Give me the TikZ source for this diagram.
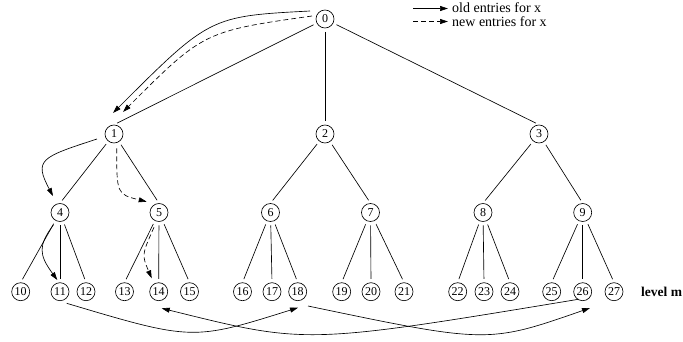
\documentclass[tikz,border=0pt]{standalone}
\usepackage{fontspec}
\setmainfont{Liberation Serif}
\usetikzlibrary{arrows.meta,calc}
\begin{document}
\begin{tikzpicture}[x=1pt,y=-1pt,
  nd/.style={circle,draw,line width=0.65pt,minimum size=18pt,inner sep=0.5pt,font=\fontsize{12}{12}\selectfont},
  edg/.style={line width=0.65pt,shorten <=3.5pt,shorten >=3.5pt},
  arr/.style={line width=0.65pt,-{Triangle[length=8pt,width=5pt]}},
  darr/.style={arr,dash pattern=on 5pt off 3pt},
  legtext/.style={anchor=base west,inner sep=0pt,font=\fontsize{14}{14}\selectfont},
  lvl/.style={anchor=base west,inner sep=0pt,font=\fontsize{13.5}{13.5}\selectfont\bfseries}]
\useasboundingbox (0,0) rectangle (683,341);
% nodes
\node[nd] (n0) at (325,19) {0};
\node[nd] (n1) at (114,134) {1};
\node[nd] (n2) at (325,134) {2};
\node[nd] (n3) at (539,134) {3};
\foreach \n/\x in {4/60,5/159,6/270.5,7/370.5,8/483,9/582.7}
  \node[nd] (n\n) at (\x,212.5) {\n};
\foreach \n/\x in {10/20.7,11/60,12/86,13/124.5,14/158.7,15/189.5,16/242.5,17/272,18/297.7,19/341.7,20/371,21/404,22/457.7,23/484,24/510,25/551.7,26/582.7,27/614}
  \node[nd] (n\n) at (\x,291.7) {\n};
\node[lvl] (lvm) at (641,296) {level m};
% tree edges
\foreach \p/\c in {0/1,0/2,0/3,1/4,1/5,2/6,2/7,3/8,3/9,4/10,4/11,4/12,5/13,5/14,5/15,6/16,6/17,6/18,7/19,7/20,7/21,8/22,8/23,8/24,9/25,9/26,9/27}
  \draw[edg] (n\p) -- (n\c.north);
% old / new entry arrows
\draw[arr] ($(n0)+(-15,-8)$) to[out=183,in=45,out looseness=1.155,in looseness=1.577] ($(n1)+(-1,-21)$);
\draw[darr] ($(n0)+(-13,-3)$) to[out=188,in=45,out looseness=1.32,in looseness=1.37] ($(n1)+(9,-22)$);
\draw[arr] ($(n1)+(-17,5)$) to[out=198,in=118,out looseness=2.1,in looseness=1.46] ($(n4)+(-7,-16.5)$);
\draw[darr] ($(n1)+(2.7,14.3)$) to[out=270,in=166,out looseness=1.91,in looseness=1.29] ($(n5)+(-12.3,-10.8)$);
\draw[darr] ($(n5)+(-5,14.8)$) to[out=246,in=113,out looseness=1.5,in looseness=1.28] ($(n14)+(-7,-13.4)$);
\draw[arr] ($(n4)+(-6.7,12.5)$) to[out=234,in=126,out looseness=1.2,in looseness=1.47] ($(n11)+(-2.7,-11.7)$);
\draw[arr] ($(n11)+(6.7,11.6)$) to[out=343.4,in=197.4,out looseness=1.45,in looseness=1.22] ($(n18)+(0.3,16)$);
\draw[arr] ($(n18)+(10.3,14.3)$) to[out=348.2,in=199.2,out looseness=1.66,in looseness=0.98] ($(n26)+(7.3,16.3)$);
\draw[arr] ($(n26)+(-4.4,7.6)$) to[out=189.4,in=346.1,out looseness=1.71,in looseness=0.915] ($(n14)+(3,16.6)$);
% legend
\coordinate (l1s) at (413,8.5);
\coordinate (l1e) at (448,8.5);
\coordinate (l2s) at (413,21.5);
\coordinate (l2e) at (448,21.5);
\draw[arr] (l1s) -- (l1e);
\draw[darr] (l2s) -- (l2e);
\node[legtext] (t1) at (452,12.5) {old entries for x};
\node[legtext] (t2) at (452,26) {new entries for x};
\end{tikzpicture}
\end{document}
